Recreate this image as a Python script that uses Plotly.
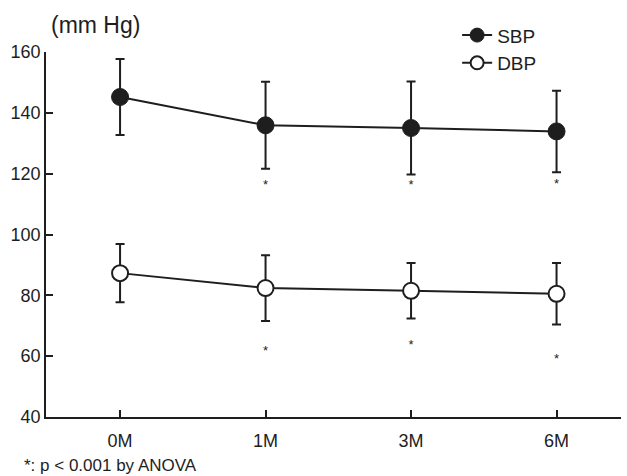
import plotly.graph_objects as go

# ---- data ----
months = ["0M", "1M", "3M", "6M"]
sbp_mean = [145.2, 135.9, 135.0, 133.9]
sbp_sd = [12.5, 14.3, 15.3, 13.4]
dbp_mean = [87.3, 82.4, 81.5, 80.5]
dbp_sd = [9.6, 10.8, 9.1, 10.1]
# significance markers (*) : month index and y value
sig_idx = [1, 2, 3]
sbp_star_y = [115.9, 115.9, 116.3]
dbp_star_y = [61.6, 63.4, 58.9]
y_ticks = [40, 60, 80, 100, 120, 140, 160]

FONT = "Liberation Sans, Arial, Helvetica, sans-serif"
INK = "#1e1e1e"

xpos = list(range(len(months)))
x_lo, x_hi = -0.509, 3.443

fig = go.Figure()

# SBP
fig.add_trace(go.Scatter(
    x=xpos, y=sbp_mean, mode="lines+markers", name="SBP", showlegend=False,
    line=dict(color=INK, width=2),
    marker=dict(size=17, color=INK, line=dict(color=INK, width=1)),
    error_y=dict(type="data", array=sbp_sd, visible=True, color=INK,
                 thickness=2, width=4.5),
    cliponaxis=False,
))
# DBP
fig.add_trace(go.Scatter(
    x=xpos, y=dbp_mean, mode="lines+markers", name="DBP", showlegend=False,
    line=dict(color=INK, width=2),
    marker=dict(size=16, color="white", line=dict(color=INK, width=2)),
    error_y=dict(type="data", array=dbp_sd, visible=True, color=INK,
                 thickness=2, width=4.5),
    cliponaxis=False,
))

# significance asterisks
fig.add_trace(go.Scatter(
    x=[xpos[i] for i in sig_idx] * 2, y=sbp_star_y + dbp_star_y,
    mode="text", text=["*"] * (2 * len(sig_idx)), showlegend=False,
    textfont=dict(family=FONT, size=13, color=INK), hoverinfo="skip",
))

# legend entries
fig.add_trace(go.Scatter(
    x=[None], y=[None], mode="lines+markers", name="SBP",
    line=dict(color=INK, width=2),
    marker=dict(size=14, color=INK, line=dict(color=INK, width=1)),
))
fig.add_trace(go.Scatter(
    x=[None], y=[None], mode="lines+markers", name="DBP",
    line=dict(color=INK, width=2),
    marker=dict(size=13, color="white", line=dict(color=INK, width=2)),
))

fig.update_layout(
    width=627, height=476,
    margin=dict(l=46, r=6, t=52, b=59),
    paper_bgcolor="white", plot_bgcolor="white",
    font=dict(family=FONT, size=18, color=INK),
    showlegend=True,
    legend=dict(x=0.715, y=1.098, xanchor="left", yanchor="top",
                bgcolor="rgba(0,0,0,0)", borderwidth=0,
                font=dict(family=FONT, size=19, color=INK),
                tracegroupgap=0, itemsizing="trace"),
    xaxis=dict(
        range=[x_lo, x_hi], showgrid=False, zeroline=False,
        showline=True, linecolor=INK, linewidth=1.5,
        tickmode="array", tickvals=xpos + [x_hi], ticktext=months + [""],
        ticks="inside", ticklen=7, tickwidth=1.5, tickcolor=INK,
        ticklabelstandoff=7,
    ),
    yaxis=dict(
        range=[40, 160], showgrid=False, zeroline=False,
        showline=True, linecolor=INK, linewidth=1.5,
        tickmode="array", tickvals=y_ticks,
        ticks="inside", ticklen=7, tickwidth=1.5, tickcolor=INK,
    ),
    annotations=[
        dict(text="(mm Hg)", xref="paper", yref="paper", x=0.006, y=1.075,
             xanchor="left", yanchor="middle", showarrow=False,
             font=dict(family=FONT, size=23, color=INK)),
        dict(text="*: p < 0.001 by ANOVA", xref="paper", yref="paper",
             x=-0.041, y=-0.134, xanchor="left", yanchor="middle",
             showarrow=False, font=dict(family=FONT, size=17, color=INK)),
    ],
)

fig.write_html("out.html",
               config={"displayModeBar": False},
               post_script="document.body.style.margin='0';"
                           "document.body.style.overflow='hidden';")
